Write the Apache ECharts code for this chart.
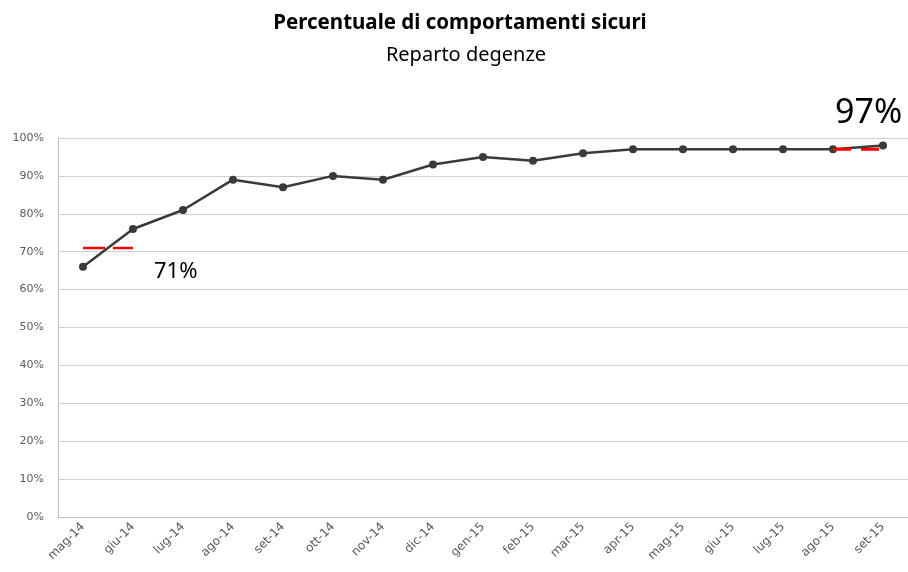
<!DOCTYPE html>
<html><head><meta charset="utf-8">
<script src="https://cdn.jsdelivr.net/npm/echarts@6/dist/echarts.min.js"></script>
<style>html,body{margin:0;padding:0;background:#fff}#c{width:908px;height:572px}</style>
</head><body><div id="c"></div>
<script>
const categories = ['mag-14','giu-14','lug-14','ago-14','set-14','ott-14','nov-14','dic-14','gen-15','feb-15','mar-15','apr-15','mag-15','giu-15','lug-15','ago-15','set-15'];
const safeBehaviour = [66,76,81,89,87,90,89,93,95,94,96,97,97,97,97,97,98];
const targetStart = [71,71,null,null,null,null,null,null,null,null,null,null,null,null,null,null,null];
const targetEnd = [null,null,null,null,null,null,null,null,null,null,null,null,null,null,null,97,97];
const yTicks = [0,10,20,30,40,50,60,70,80,90,100];

const chart = echarts.init(document.getElementById('c'));
chart.setOption({
  animation:false,
  title:[
    {text:'Percentuale di comportamenti sicuri', left:455, textAlign:'center', top:8,
     textStyle:{fontFamily:'Noto Sans', fontWeight:'bold', fontSize:20.5, color:'#000'}},
    {text:'Reparto degenze', left:461, textAlign:'center', top:40,
     textStyle:{fontFamily:'Noto Sans', fontWeight:'normal', fontSize:20, color:'#000'}}
  ],
  grid:{left:58, right:0, top:138, bottom:55},
  xAxis:{type:'category', data:categories, boundaryGap:true,
    axisLine:{lineStyle:{color:'#bfbfbf', width:1}},
    axisTick:{show:false},
    axisLabel:{rotate:45, interval:0, color:'#595959', fontFamily:'DejaVu Sans', fontSize:12, margin:8}
  },
  yAxis:{type:'value', min:yTicks[0], max:yTicks[yTicks.length-1], interval:10,
    axisLine:{show:true, lineStyle:{color:'#bfbfbf'}},
    axisTick:{show:false},
    splitLine:{lineStyle:{color:'#d0d0d0'}},
    axisLabel:{formatter:'{value}%', color:'#595959', fontFamily:'DejaVu Sans', fontSize:11, margin:14}
  },
  series:[
    {type:'line', data:safeBehaviour, symbol:'circle', symbolSize:8,
     lineStyle:{color:'#3a3a3a', width:2.5}, itemStyle:{color:'#3a3a3a'}, z:3},
    {type:'line', data:targetStart, symbol:'none',
     lineStyle:{color:'#ff0000', width:2.5, type:[22,8]}, z:2},
    {type:'line', data:targetEnd, symbol:'none',
     lineStyle:{color:'#ff0000', width:3, type:[18,10]}, z:4}
  ],
  graphic:[
    {type:'text', left:154, top:261, style:{text:'71%', font:'22px "Noto Sans"', fill:'#000'}},
    {type:'text', left:835, top:96, style:{text:'97%', font:'34px "Noto Sans"', fill:'#000'}}
  ]
});
</script></body></html>
